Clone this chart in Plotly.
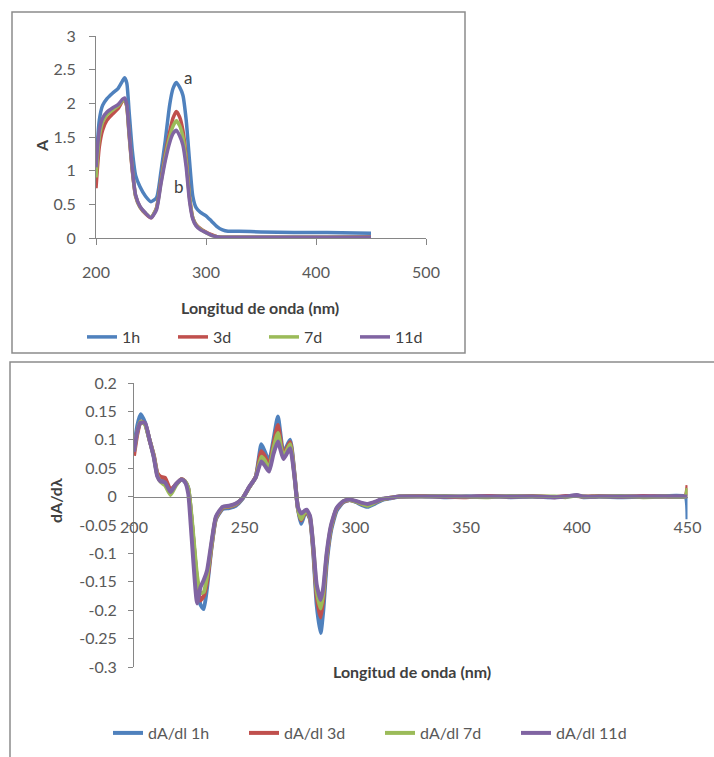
import plotly.graph_objects as go

# ---------------- data: absorbance spectra ----------------
wl_abs = [200, 203, 206, 210, 215, 220, 224, 226, 228, 230, 233, 236, 240, 245, 250,
          255, 259, 263, 267, 270, 273, 276, 279, 282, 285, 288, 291, 295, 300, 305,
          310, 315, 320, 330, 350, 380, 410, 450]
abs_1h = [1.05, 1.75, 1.97, 2.07, 2.15, 2.22, 2.33, 2.38, 2.30, 1.90, 1.30, 0.93, 0.76, 0.62, 0.54,
          0.60, 0.98, 1.45, 1.98, 2.22, 2.31, 2.24, 2.12, 1.75, 1.15, 0.62, 0.45, 0.38, 0.33, 0.25,
          0.17, 0.12, 0.10, 0.10, 0.09, 0.08, 0.08, 0.07]
abs_3d = [0.74, 1.35, 1.60, 1.75, 1.84, 1.92, 2.03, 2.05, 1.95, 1.55, 1.00, 0.62, 0.46, 0.36, 0.30,
          0.45, 0.85, 1.25, 1.58, 1.78, 1.88, 1.80, 1.60, 1.20, 0.62, 0.30, 0.20, 0.14, 0.09, 0.05,
          0.02, 0.01, 0.01, 0.01, 0.01, 0.01, 0.01, 0.02]
abs_7d = [0.90, 1.50, 1.72, 1.83, 1.90, 1.96, 2.04, 2.06, 1.96, 1.58, 1.02, 0.63, 0.46, 0.37, 0.31,
          0.44, 0.82, 1.20, 1.50, 1.66, 1.74, 1.67, 1.50, 1.14, 0.60, 0.30, 0.19, 0.13, 0.08, 0.04,
          0.02, 0.01, 0.01, 0.01, 0.01, 0.01, 0.01, 0.01]
abs_11d = [1.05, 1.60, 1.78, 1.87, 1.93, 1.98, 2.06, 2.08, 1.98, 1.60, 1.03, 0.64, 0.47, 0.37, 0.30,
           0.42, 0.80, 1.15, 1.42, 1.55, 1.60, 1.52, 1.38, 1.05, 0.55, 0.28, 0.18, 0.12, 0.08, 0.04,
           0.02, 0.01, 0.01, 0.01, 0.01, 0.01, 0.01, 0.01]
abs_names = ["1h", "3d", "7d", "11d"]

# ---------------- data: first derivative ----------------
wl_d = [200, 201.5, 203, 205, 207, 209, 210.5, 212, 214, 216.5, 219, 221.5, 223, 224.5, 226,
        228.5, 230, 231.5, 233, 235, 237, 240, 243, 246, 249, 252, 255, 257.5, 259, 261,
        263, 265, 267.5, 270.5, 272.5, 274, 275.5, 277, 278, 279.5, 281, 282.5, 284.3, 285.5, 287,
        289, 291.5, 294.5, 297.5, 300.5, 303, 305.5, 309, 312, 316, 320, 330, 340, 350, 360,
        370, 380, 390, 395, 400, 403, 410, 420, 430, 440, 449, 450]
d_1h = [0.085, 0.125, 0.145, 0.130, 0.100, 0.070, 0.040, 0.030, 0.028, 0.010, 0.022, 0.030, 0.026, 0.015, -0.040,
        -0.150, -0.190, -0.198, -0.160, -0.090, -0.040, -0.022, -0.020, -0.016, -0.004, 0.016, 0.035, 0.092, 0.080, 0.062,
        0.100, 0.141, 0.078, 0.100, 0.040, -0.020, -0.048, -0.032, -0.028, -0.040, -0.100, -0.190, -0.240, -0.200, -0.120,
        -0.060, -0.025, -0.010, -0.006, -0.010, -0.015, -0.018, -0.012, -0.006, -0.003, 0.000, 0.001, -0.001, 0.000, 0.001,
        -0.001, 0.000, -0.001, 0.000, 0.002, -0.001, 0.000, -0.001, 0.000, 0.001, 0.000, -0.040]
d_3d = [0.072, 0.110, 0.132, 0.128, 0.100, 0.072, 0.042, 0.035, 0.033, 0.012, 0.022, 0.031, 0.027, 0.014, -0.040,
        -0.150, -0.183, -0.175, -0.150, -0.088, -0.038, -0.020, -0.018, -0.014, -0.003, 0.016, 0.035, 0.080, 0.072, 0.055,
        0.092, 0.126, 0.074, 0.096, 0.038, -0.020, -0.042, -0.030, -0.026, -0.038, -0.095, -0.175, -0.213, -0.180, -0.110,
        -0.055, -0.022, -0.009, -0.006, -0.009, -0.013, -0.015, -0.010, -0.005, -0.002, 0.000, 0.001, 0.000, -0.001, 0.001,
        0.000, 0.001, -0.001, 0.001, 0.001, 0.000, 0.001, 0.000, 0.001, 0.000, 0.001, 0.020]
d_7d = [0.080, 0.115, 0.132, 0.127, 0.100, 0.070, 0.038, 0.026, 0.020, 0.003, 0.020, 0.030, 0.027, 0.015, -0.035,
        -0.140, -0.170, -0.168, -0.140, -0.085, -0.037, -0.019, -0.017, -0.013, -0.003, 0.016, 0.034, 0.070, 0.064, 0.050,
        0.085, 0.112, 0.070, 0.092, 0.036, -0.020, -0.040, -0.028, -0.025, -0.036, -0.090, -0.165, -0.197, -0.170, -0.105,
        -0.053, -0.021, -0.008, -0.006, -0.009, -0.013, -0.016, -0.010, -0.005, -0.002, 0.000, 0.000, 0.001, 0.000, -0.001,
        0.001, 0.000, 0.000, -0.001, 0.002, 0.000, 0.000, 0.001, -0.001, 0.000, 0.000, 0.015]
d_11d = [0.079, 0.115, 0.130, 0.130, 0.100, 0.068, 0.036, 0.027, 0.025, 0.008, 0.022, 0.030, 0.026, 0.005, -0.070,
         -0.188, -0.160, -0.147, -0.130, -0.080, -0.035, -0.018, -0.016, -0.012, -0.003, 0.017, 0.034, 0.062, 0.055, 0.044,
         0.075, 0.097, 0.066, 0.085, 0.034, -0.018, -0.030, -0.025, -0.023, -0.034, -0.088, -0.155, -0.182, -0.160, -0.100,
         -0.050, -0.020, -0.008, -0.005, -0.008, -0.011, -0.013, -0.009, -0.004, -0.002, 0.000, 0.000, 0.000, 0.000, 0.000,
         0.000, 0.000, -0.001, 0.000, 0.003, 0.000, 0.000, 0.000, 0.000, 0.000, 0.000, 0.000]
deriv_names = ["dA/dl 1h", "dA/dl 3d", "dA/dl 7d", "dA/dl 11d"]

# axis ticks
abs_x_ticks = [200, 300, 400, 500]
abs_y_ticks = [0, 0.5, 1, 1.5, 2, 2.5, 3]
abs_y_text = ["0", "0.5", "1", "1.5", "2", "2.5", "3"]
d_x_ticks = [200, 250, 300, 350, 400, 450]
d_y_ticks = [0.2, 0.15, 0.1, 0.05, 0, -0.05, -0.1, -0.15, -0.2, -0.25, -0.3]
d_y_text = ["0.2", "0.15", "0.1", "0.05", "0", "-0.05", "-0.1", "-0.15", "-0.2", "-0.25", "-0.3"]

colors = ["#4F81BD", "#C0504D", "#9BBB59", "#8064A2"]

W, H = 714, 757
FONT = "Lato"
TICK_C = "#595959"
TITLE_C = "#404040"
AXIS_C = "#868686"
BORDER_C = "#8c8c8c"


def px(x):
    return x / W


def py(y):
    return 1 - y / H


fig = go.Figure()

for vals, name, c in zip([abs_1h, abs_3d, abs_7d, abs_11d], abs_names, colors):
    fig.add_trace(go.Scatter(
        x=wl_abs, y=vals, name=name, mode="lines",
        line=dict(color=c, width=3.5, shape="spline", smoothing=0.6),
        xaxis="x", yaxis="y", legend="legend"))

for vals, name, c in zip([d_1h, d_3d, d_7d, d_11d], deriv_names, colors):
    fig.add_trace(go.Scatter(
        x=wl_d, y=vals, name=name, mode="lines",
        line=dict(color=c, width=4, shape="spline", smoothing=0.5),
        xaxis="x2", yaxis="y2", legend="legend2"))

# plot-area geometry
top_dom_y = [py(238), py(36)]
bot_dom_y = [py(667), py(383)]
bot_range_y = [-0.3, 0.2]
zero_pos = bot_dom_y[0] + (0 - bot_range_y[0]) / (bot_range_y[1] - bot_range_y[0]) * (bot_dom_y[1] - bot_dom_y[0])

tick_font = dict(family=FONT, size=16, color=TICK_C)

fig.update_layout(
    width=W, height=H,
    margin=dict(l=0, r=0, t=0, b=0, autoexpand=False),
    paper_bgcolor="white", plot_bgcolor="rgba(0,0,0,0)",
    showlegend=True,
    xaxis=dict(domain=[px(96), px(426)], range=[200, 500], anchor="y", automargin=False,
               tickvals=abs_x_ticks, ticks="outside", ticklen=6, tickcolor=AXIS_C,
               showline=True, linecolor=AXIS_C, linewidth=1, showgrid=False, zeroline=False,
               tickfont=tick_font, ticklabelstandoff=14),
    yaxis=dict(domain=top_dom_y, range=[0, 3], anchor="x", automargin=False,
               tickvals=abs_y_ticks, ticktext=abs_y_text, ticks="outside", ticklen=6,
               tickcolor=AXIS_C, showline=True, linecolor=AXIS_C, linewidth=1,
               showgrid=False, zeroline=False, tickfont=tick_font, ticklabelstandoff=10),
    xaxis2=dict(domain=[px(134), px(687.5)], range=[200, 450], anchor="free", automargin=False,
                position=zero_pos, tickvals=d_x_ticks, ticks="",
                showline=True, linecolor=AXIS_C, linewidth=1, showgrid=False, zeroline=False,
                tickfont=tick_font, ticklabelstandoff=16),
    yaxis2=dict(domain=bot_dom_y, range=bot_range_y, anchor="x2", automargin=False,
                tickvals=d_y_ticks, ticktext=d_y_text, ticks="outside", ticklen=5,
                tickcolor=AXIS_C, showline=True, linecolor=AXIS_C, linewidth=1,
                showgrid=False, zeroline=False, tickfont=tick_font, ticklabelstandoff=8),
    legend=dict(orientation="h", x=px(82), y=py(337), xanchor="left", yanchor="middle",
                font=dict(family=FONT, size=16, color=TITLE_C), entrywidth=46,
                entrywidthmode="pixels", bgcolor="rgba(0,0,0,0)", traceorder="normal"),
    legend2=dict(orientation="h", x=px(108), y=py(733), xanchor="left", yanchor="middle",
                 font=dict(family=FONT, size=16, color=TICK_C), entrywidth=91,
                 entrywidthmode="pixels", bgcolor="rgba(0,0,0,0)", traceorder="normal"),
)

# chart-area frames
fig.add_shape(type="rect", xref="paper", yref="paper",
              x0=px(12), x1=px(465), y0=py(353), y1=py(12),
              line=dict(color=BORDER_C, width=1.5), layer="below")
fig.add_shape(type="rect", xref="paper", yref="paper",
              x0=px(10), x1=px(730), y0=py(780), y1=py(362),
              line=dict(color=BORDER_C, width=1.5), layer="below")

# axis titles
title_font = dict(family=FONT, size=16, color=TITLE_C)
fig.add_annotation(text="<b>Longitud de onda (nm)</b>", xref="paper", yref="paper",
                   x=px(260), y=py(307), showarrow=False, font=title_font)
fig.add_annotation(text="<b>A</b>", xref="paper", yref="paper",
                   x=px(30), y=py(137), showarrow=False, textangle=-90, font=title_font)
fig.add_annotation(text="<b>Longitud de onda (nm)</b>", xref="paper", yref="paper",
                   x=px(412), y=py(683), showarrow=False, font=title_font)
fig.add_annotation(text="<b>dA/dλ</b>", xref="paper", yref="paper",
                   x=px(44), y=py(525), showarrow=False, textangle=-90, font=title_font)

# curve labels
fig.add_annotation(text="a", x=283.5, y=2.38, xref="x", yref="y", showarrow=False,
                   font=dict(family=FONT, size=17, color=TITLE_C))
fig.add_annotation(text="b", x=275.8, y=0.77, xref="x", yref="y", showarrow=False,
                   font=dict(family=FONT, size=17, color=TITLE_C))

fig.write_html("out.html")
